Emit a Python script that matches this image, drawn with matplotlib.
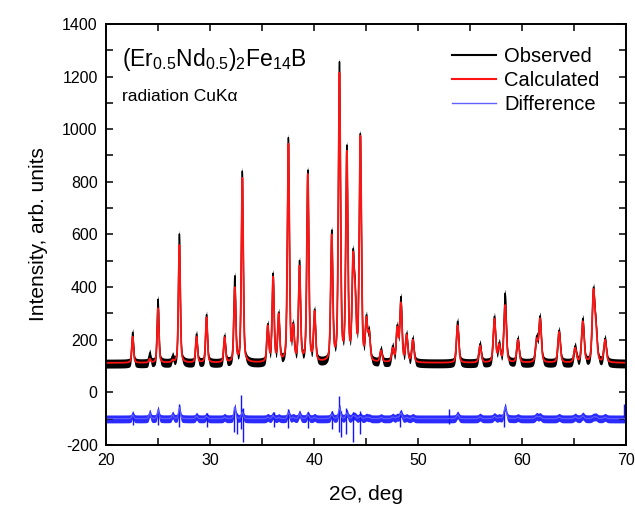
"""Rietveld fit of (Er0.5Nd0.5)2Fe14B: observed / calculated / difference."""
import numpy as np
import matplotlib
matplotlib.use("Agg")
import matplotlib.pyplot as plt
from matplotlib.ticker import MultipleLocator

plt.rcParams["font.family"] = ["Liberation Sans", "DejaVu Sans"]
plt.rcParams["mathtext.fontset"] = "custom"
plt.rcParams["mathtext.rm"] = "Liberation Sans"
plt.rcParams["mathtext.it"] = "Liberation Sans:italic"
plt.rcParams["axes.unicode_minus"] = False

# peak list: 2theta, observed top, calculated top
peak_pos = [22.56, 24.2, 25.0, 26.4, 27.05, 28.7, 29.66, 31.4, 32.38, 33.1,
            35.55, 36.06, 36.6, 37.53, 38.0, 38.6, 39.4, 40.05, 41.7, 42.44,
            43.15, 43.75, 43.95, 44.45, 45.03, 45.3, 46.44, 47.56, 48.0, 48.35,
            48.9, 49.5, 53.8, 55.96, 57.34, 57.8, 58.37, 59.6, 61.4, 61.73,
            63.56, 65.1, 65.84, 66.86, 67.1, 67.98]
obs_top = [228, 150, 354, 140, 602, 222, 295, 216, 443, 841,
           261, 453, 305, 968, 266, 501, 845, 316, 617, 1256,
           940, 544, 420, 984, 295, 240, 165, 177, 257, 364,
           225, 206, 270, 185, 289, 190, 377, 205, 215, 291,
           236, 177, 281, 399, 280, 206]
calc_top = [212, 128, 320, 125, 560, 212, 285, 210, 400, 815,
            255, 440, 300, 945, 260, 482, 830, 310, 600, 1215,
            918, 532, 410, 975, 288, 235, 160, 170, 250, 342,
            220, 200, 255, 178, 280, 185, 332, 200, 205, 282,
            230, 170, 270, 392, 272, 200]
background = 112.0
diff_offset = -100.0

# sharp features of the difference curve: 2theta, lowest, highest
spike_pos = [22.6, 25.0, 27.05, 29.7, 32.3, 32.6, 33.0, 33.2, 36.1, 37.5,
             39.4, 41.7, 42.4, 42.6, 43.1, 43.7, 44.4, 48.3, 53.0, 58.3, 69.8]
spike_lo = [-125, -125, -130, -130, -150, -160, -140, -190, -130, -135,
            -135, -140, -150, -170, -160, -190, -160, -130, -120, -130, -110]
spike_hi = [-80, -75, -45, -80, -55, -80, -10, -60, -75, -65,
            -75, -70, -15, -70, -60, -75, -70, -70, -65, -70, -45]


def pseudo_voigt(x, x0, fwhm, eta=0.4):
    g = np.exp(-4 * np.log(2) * ((x - x0) / fwhm) ** 2)
    lor = 1.0 / (1.0 + 4 * ((x - x0) / fwhm) ** 2)
    return eta * lor + (1 - eta) * g


def profile(x, tops):
    # amplitudes chosen so that the summed curve passes through the read tops
    pos = np.asarray(peak_pos)
    w = 0.19 + 0.002 * (pos - 20)
    m = np.array([[pseudo_voigt(pi, pj, wj) for pj, wj in zip(pos, w)] for pi in pos])
    amp = np.clip(np.linalg.solve(m, np.asarray(tops, float) - background), 0, None)
    y = np.full_like(x, background)
    for pj, wj, aj in zip(pos, w, amp):
        y += aj * pseudo_voigt(x, pj, wj)
    return y


tt = np.arange(20.0, 70.0001, 0.01)
obs = profile(tt, obs_top)
calc = profile(tt, calc_top)
diff = obs - calc + diff_offset

fig = plt.figure(figsize=(6.35, 5.08), dpi=100)
ax = fig.add_axes([0.167, 0.124, 0.819, 0.829])

ax.fill_between(tt, obs - 20, obs + 14, color="k", lw=0)
ax.plot(tt, obs, color="k", lw=1.0, label="Observed")
ax.plot(tt, calc, color="#ff1414", lw=1.3, label="Calculated")

ax.fill_between(tt, diff - 16, diff + 14, color="#1414ff", lw=0, alpha=0.9)
ax.vlines(spike_pos, spike_lo, spike_hi, color="#1414ff", lw=1.0)
ax.plot(tt, diff, color="#6060ff", lw=0.8, label="Difference")

ax.set_xlim(20, 70)
ax.set_ylim(-200, 1400)
ax.xaxis.set_major_locator(MultipleLocator(10))
ax.xaxis.set_minor_locator(MultipleLocator(5))
ax.yaxis.set_major_locator(MultipleLocator(200))
ax.yaxis.set_minor_locator(MultipleLocator(100))
ax.tick_params(which="both", direction="in", top=True, right=True,
               length=5, width=1.1, labelsize=11.5, pad=6)
for s in ax.spines.values():
    s.set_linewidth(1.4)

ax.set_xlabel("2\u0398, deg", fontsize=15, labelpad=12)
ax.set_ylabel("Intensity, arb. units", fontsize=15, labelpad=10)

ax.text(0.03, 0.90, r"(Er$_{0.5}$Nd$_{0.5}$)$_{2}$Fe$_{14}$B",
        transform=ax.transAxes, fontsize=16.5, va="baseline")
ax.text(0.03, 0.818, "radiation CuK\u03b1", transform=ax.transAxes,
        fontsize=12.5, va="baseline")

leg = ax.legend(loc="upper right", frameon=False, fontsize=14.5,
                handlelength=2.2, handletextpad=0.4, labelspacing=0.25,
                bbox_to_anchor=(0.965, 0.965), borderaxespad=0.0)
leg.get_lines()[0].set_linewidth(1.5)
leg.get_lines()[1].set_linewidth(1.5)
leg.get_lines()[2].set_linewidth(1.0)

fig.savefig("out.png", dpi=100, facecolor="w")
